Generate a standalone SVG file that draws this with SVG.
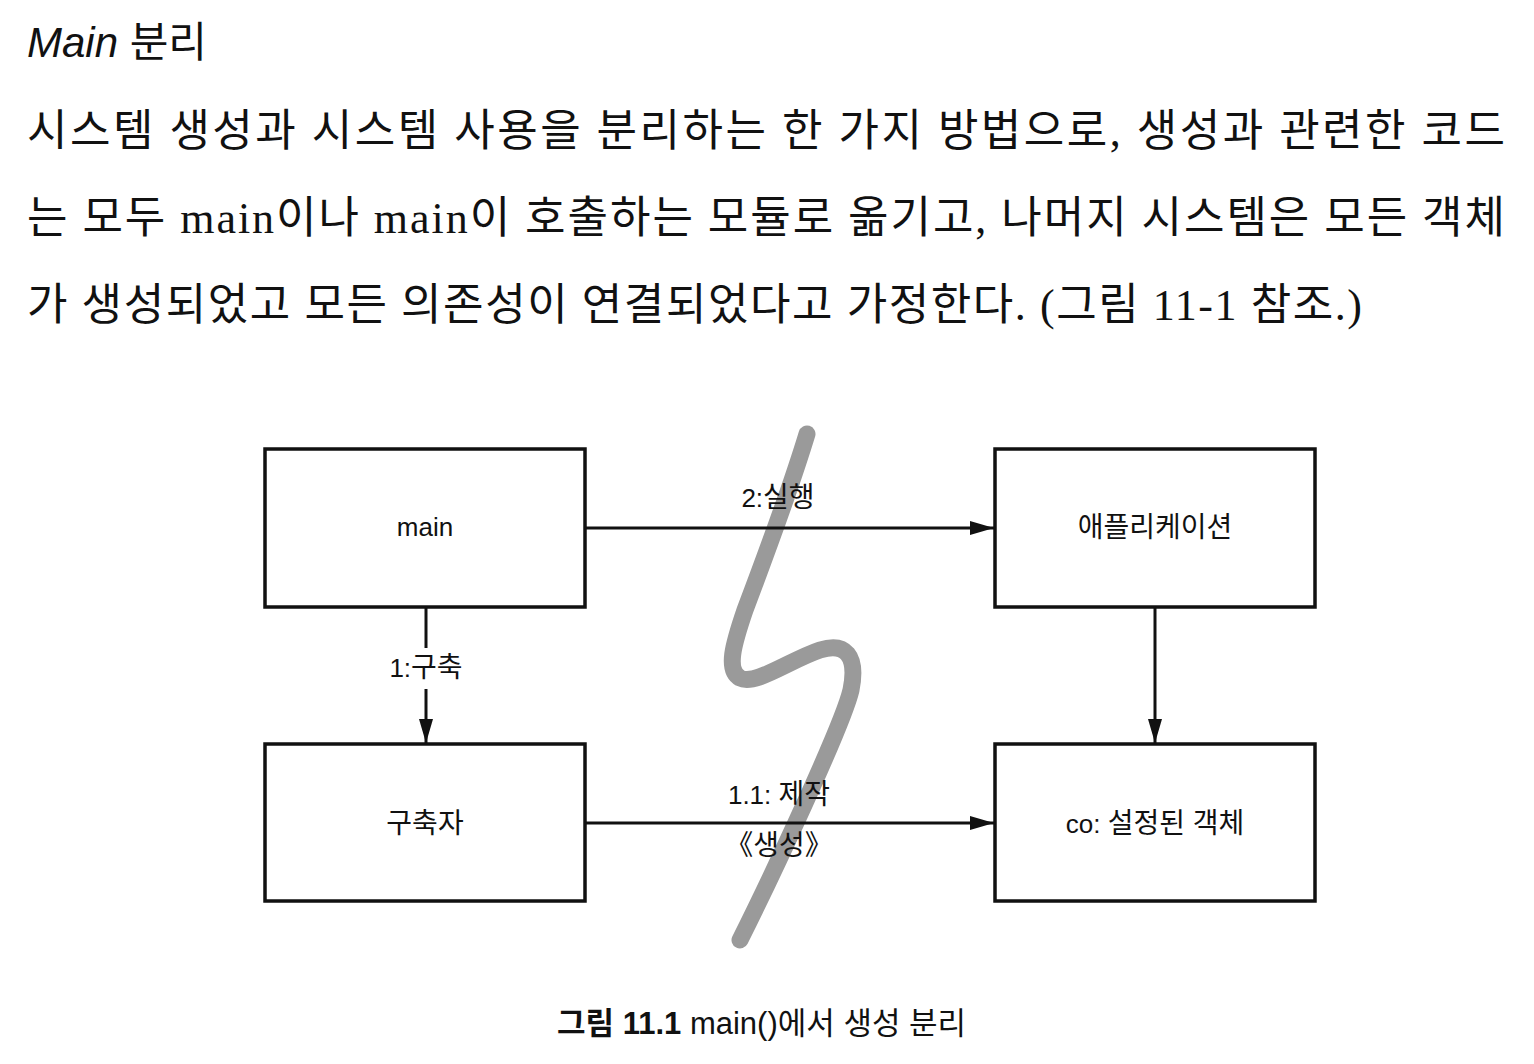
<svg xmlns="http://www.w3.org/2000/svg" width="1534" height="1064" viewBox="0 0 1534 1064">
<defs>
<style>
.body{font-family:"Liberation Serif","Noto Sans CJK KR",serif;font-size:44px;fill:#111}
.title{font-family:"Liberation Sans","Noto Sans CJK KR",sans-serif;font-size:42px;fill:#111}
.lbl{font-family:"Liberation Sans","Noto Sans CJK KR",sans-serif;font-size:26px;fill:#111;text-anchor:middle}
.ko{font-size:28px}
.cap{font-family:"Liberation Sans","Noto Sans CJK KR",sans-serif;font-size:31px;fill:#111}
.box{fill:#fff;stroke:#111;stroke-width:3.5}
.conn{stroke:#111;stroke-width:3;fill:none}
</style>
<marker id="arr" markerUnits="userSpaceOnUse" markerWidth="24" markerHeight="14" refX="24" refY="7" orient="auto">
<path d="M0,0 L24,7 L0,14 z" fill="#111"/>
</marker>
</defs>
<rect width="1534" height="1064" fill="#fff"/>
<g id="text-top">
<text class="title" x="27" y="57"><tspan font-style="italic">Main</tspan> 분리</text>
<text class="body" x="27" y="146" textLength="1478" lengthAdjust="spacing">시스템 생성과 시스템 사용을 분리하는 한 가지 방법으로, 생성과 관련한 코드</text>
<text class="body" x="27" y="233" textLength="1478" lengthAdjust="spacing">는 모두 main이나 main이 호출하는 모듈로 옮기고, 나머지 시스템은 모든 객체</text>
<text class="body" x="27" y="320" textLength="1335" lengthAdjust="spacing">가 생성되었고 모든 의존성이 연결되었다고 가정한다. (그림 11-1 참조.)</text>
</g>
<g id="boundary">
<path d="M 807 434 C 790 490, 762 565, 745 610 C 733 645, 726 670, 740 678 C 755 686, 790 660, 820 650 C 845 642, 858 655, 851 690 C 843 725, 770 880, 740 940" fill="none" stroke="#9a9a9a" stroke-width="17" stroke-linecap="round" stroke-linejoin="round"/>
</g>
<g id="connectors">
<line class="conn" x1="586" y1="528" x2="994" y2="528" marker-end="url(#arr)"/>
<line class="conn" x1="426" y1="607" x2="426" y2="648"/>
<line class="conn" x1="426" y1="689" x2="426" y2="743" marker-end="url(#arr)"/>
<line class="conn" x1="1155" y1="607" x2="1155" y2="743" marker-end="url(#arr)"/>
<line class="conn" x1="586" y1="823" x2="994" y2="823" marker-end="url(#arr)"/>
<text class="lbl" x="778" y="507">2:<tspan class="ko">실행</tspan></text>
<text class="lbl" x="426" y="677">1:<tspan class="ko">구축</tspan></text>
<text class="lbl" x="779" y="804">1.1: <tspan class="ko">제작</tspan></text>
<text class="lbl ko" x="779" y="855">《생성》</text>
</g>
<g id="node-main">
<rect class="box" x="265" y="449" width="320" height="158"/>
<text class="lbl" x="425" y="536">main</text>
</g>
<g id="node-app">
<rect class="box" x="995" y="449" width="320" height="158"/>
<text class="lbl ko" x="1155" y="537">애플리케이션</text>
</g>
<g id="node-builder">
<rect class="box" x="265" y="744" width="320" height="157"/>
<text class="lbl ko" x="425" y="833">구축자</text>
</g>
<g id="node-co">
<rect class="box" x="995" y="744" width="320" height="157"/>
<text class="lbl" x="1155" y="833">co: <tspan class="ko">설정된 객체</tspan></text>
</g>
<g id="caption">
<text class="cap" x="557" y="1034"><tspan font-weight="bold">그림 11.1</tspan> main()에서 생성 분리</text>
</g>
</svg>
